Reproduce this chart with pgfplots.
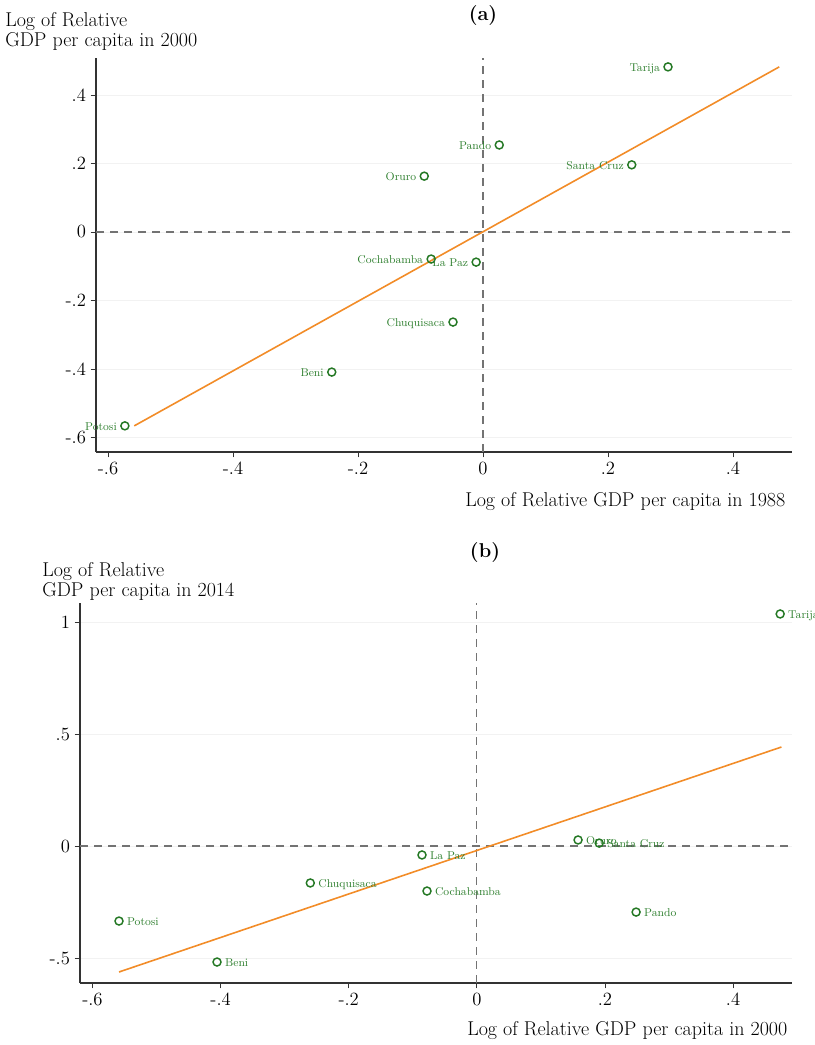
\documentclass[border=0pt]{standalone}
\usepackage{pgfplots}
\pgfplotsset{compat=1.18}
\definecolor{mk}{RGB}{36,120,36}
\definecolor{lb}{RGB}{48,128,48}
\definecolor{fit}{RGB}{242,140,40}
\begin{document}
\begin{tikzpicture}
\useasboundingbox (0,0) rectangle (610.5pt,783.75pt);
\pgfplotsset{
 panel/.style={
  scale only axis, anchor=south west, clip=false,
  axis x line*=bottom, axis y line*=left,
  axis line style={black!80, line width=0.8pt},
  tick align=outside, major tick length=4pt,
  tick style={black!80, line width=0.7pt},
  ticklabel style={font=\fontsize{14}{14}\selectfont},
  xtick={-0.6,-0.4,-0.2,0,0.2,0.4},
  xticklabels={-.6,-.4,-.2,0,.2,.4},
  ymajorgrids, grid style={black!5, line width=0.5pt},
  xlabel style={at={(axis description cs:1,0)}, anchor=base east, font=\fontsize{15}{15}\selectfont},
 },
 pts/.style={only marks, mark=o, mark size=3pt,
  mark options={draw=mk, line width=1.1pt},
  point meta=explicit symbolic, nodes near coords,
  every node near coord/.append style={font=\fontsize{8.5}{9}\selectfont, text=lb, inner sep=0pt}},
 refl/.style={black!55, line width=0.8pt, dash pattern=on 6pt off 4.5pt},
 fitl/.style={fit, line width=1.2pt},
}
% ---------------- panel (a)
\begin{axis}[panel, at={(72pt,444.75pt)}, width=522pt, height=295.5pt,
  xmin=-0.6192, xmax=0.4944, ymin=-0.6423, ymax=0.508,
  ytick={-0.6,-0.4,-0.2,0,0.2,0.4},
  yticklabels={-.6,-.4,-.2,0,.2,.4},
  xlabel={Log of Relative GDP per capita in 1988},
  xlabel style={yshift=-41pt, xshift=-1.5pt}]
\addplot[refl] coordinates {(-0.6192,0) (0.4944,0)};
\addplot[refl] coordinates {(0,-0.6423) (0,0.508)};
\addplot[pts, every node near coord/.append style={anchor=mid east, xshift=-5.5pt, yshift=-1pt}] coordinates {
 (0.296,0.482) [Tarija]
 (0.026,0.254) [Pando]
 (0.238,0.196) [Santa Cruz]
 (-0.094,0.163) [Oruro]
 (-0.083,-0.079) [Cochabamba]
 (-0.011,-0.088) [La Paz]
 (-0.048,-0.263) [Chuquisaca]
 (-0.242,-0.409) [Beni]
 (-0.573,-0.566) [Potosi]
};
\addplot[fitl] coordinates {(-0.558,-0.566) (0.474,0.482)};
\end{axis}
% ---------------- panel (b)
\begin{axis}[panel, at={(60pt,46.5pt)}, width=534pt, height=285pt,
  xmin=-0.6195, xmax=0.492, ymin=-0.6116, ymax=1.085,
  ytick={-0.5,0,0.5,1},
  yticklabels={-.5,0,.5,1},
  xlabel={Log of Relative GDP per capita in 2000},
  xlabel style={yshift=-39pt, xshift=0pt}]
\addplot[refl] coordinates {(-0.6195,0) (0.492,0)};
\addplot[refl] coordinates {(0,-0.6116) (0,1.085)};
\addplot[pts, every node near coord/.append style={anchor=mid west, xshift=5.5pt, yshift=-1.5pt}] coordinates {
 (0.4735,1.036) [Tarija]
 (0.158,0.027) [Oruro]
 (0.191,0.013) [Santa Cruz]
 (-0.0856,-0.040) [La Paz]
 (-0.260,-0.165) [Chuquisaca]
 (-0.0778,-0.201) [Cochabamba]
 (0.2486,-0.295) [Pando]
 (-0.5586,-0.335) [Potosi]
 (-0.4056,-0.518) [Beni]
};
\addplot[fitl] coordinates {(-0.5586,-0.5625) (0.4755,0.442)};
\end{axis}
% ---------------- titles and y labels
\node[font=\bfseries\fontsize{15}{15}\selectfont] at (362.25pt,771.75pt) {(a)};
\node[font=\bfseries\fontsize{15}{15}\selectfont] at (363.75pt,369pt) {(b)};
\node[anchor=north west, inner sep=0pt, align=left, font=\fontsize{15}{15}\selectfont] at (3.75pt,774.75pt) {Log of Relative\\GDP per capita in 2000};
\node[anchor=north west, inner sep=0pt, align=left, font=\fontsize{15}{15}\selectfont] at (31.5pt,362.25pt) {Log of Relative\\GDP per capita in 2014};
\end{tikzpicture}
\end{document}
